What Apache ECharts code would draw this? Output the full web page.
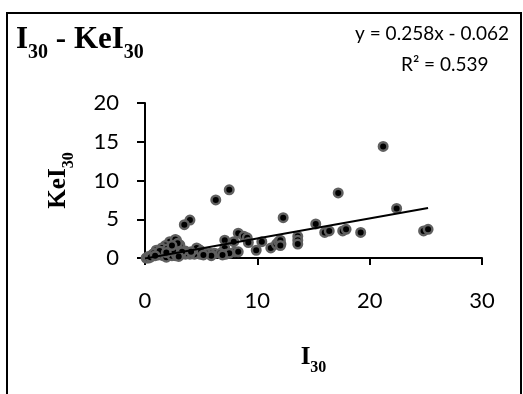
<!DOCTYPE html>
<html>
<head>
<meta charset="utf-8">
<script src="https://cdn.jsdelivr.net/npm/echarts@6/dist/echarts.min.js"></script>
<style>html,body{margin:0;padding:0;background:#fff;}#c{width:523px;height:394px;}</style>
</head>
<body>
<div id="c"></div>
<script>
var xTicks = [0, 10, 20, 30];
var yTicks = [0, 5, 10, 15, 20];
var pointsX = [21.2,17.2,22.4,15.2,12.3,16.0,16.4,17.6,17.9,19.2,24.8,25.2,13.6,13.6,13.6,7.5,6.3,4.0,3.5,8.3,8.8,9.1,9.2,7.1,7.9,7.1,8.0,8.3,9.9,10.4,11.2,11.7,12.1,11.9,12.05,12.05,
  6.2,6.7,5.8,4.9,4.4,4.0,3.6,4.8,3.6,3.1,2.8,2.8,2.2,1.8,1.5,1.0,2.7,2.2,1.6,1.2,0.7,0.3,0.1,0.3,0.8,1.6,2.7,1.9,2.4,2.8,3.7,4.6,5.4,0.5,1.3,2.0,2.5,3.3,5.0,7.2,7.5,5.9,6.9,3.0,0.9,1.9,2.9,2.4,4.1,5.2];
var pointsY = [14.4,8.4,6.4,4.4,5.2,3.3,3.5,3.5,3.7,3.3,3.5,3.7,2.8,2.3,1.8,8.8,7.5,4.9,4.3,3.2,2.8,2.6,2.0,2.3,2.1,1.3,0.8,0.8,1.0,2.1,1.3,1.8,1.8,2.1,2.3,1.6,
  0.6,0.6,0.6,0.5,0.5,0.5,0.5,1.1,0.9,1.7,1.5,2.3,2.1,1.6,1.3,1.0,0.3,0.4,0.3,0.4,0.5,0.2,0.0,0.0,0.6,0.8,2.4,0.1,0.3,0.4,0.6,1.3,0.6,0.1,0.9,1.2,1.0,0.8,0.9,0.5,0.6,0.3,0.4,0.2,0.3,0.7,1.9,1.6,0.8,0.4];
var slope = 0.258, intercept = -0.062;
var trendX = [0, 25.2];

var scatterData = pointsX.map(function (x, i) { return [x, pointsY[i]]; });
var trendData = trendX.map(function (x) { return [x, slope * x + intercept]; });

var tickFont = 'Lato, Carlito, "Open Sans", sans-serif';
var serif = '"Liberation Serif", "Times New Roman", serif';
function nameRich(main, sub, drop) {
  return {
    m: { fontFamily: serif, fontWeight: 'bold', fontSize: main, color: '#000', verticalAlign: 'bottom' },
    s: { fontFamily: serif, fontWeight: 'bold', fontSize: sub, color: '#000', verticalAlign: 'bottom', padding: [0, 0, -drop, 0] }
  };
}
var chart = echarts.init(document.getElementById('c'));
chart.setOption({
  animation: false,
  backgroundColor: '#fff',
  title: [{
    left: 11, top: 19,
    text: '{m|I}{s|30}{m| - KeI}{s|30}',
    textStyle: { rich: nameRich(31, 20, 8) }
  }, {
    right: 9, top: 19,
    text: 'y = 0.258x - 0.062',
    textStyle: { fontFamily: tickFont, fontWeight: 'normal', fontSize: 19, color: '#000' }
  }, {
    left: 396, top: 50,
    text: 'R² = 0.539',
    textStyle: { fontFamily: tickFont, fontWeight: 'normal', fontSize: 19, color: '#000' }
  }],
  graphic: [{
    type: 'rect',
    shape: { x: 7, y: 13, width: 514, height: 420 },
    style: { fill: 'none', stroke: '#000', lineWidth: 2 },
    silent: true
  }],
  grid: { left: 145, right: 41, top: 103, bottom: 136 },
  xAxis: {
    type: 'value', min: xTicks[0], max: xTicks[xTicks.length - 1], interval: 10,
    splitLine: { show: false },
    axisLine: { lineStyle: { color: '#000', width: 2 } },
    axisTick: { show: true, length: 7, lineStyle: { color: '#000', width: 2 } },
    axisLabel: { fontFamily: tickFont, fontSize: 22, color: '#000', margin: 32 },
    name: '{m|I}{s|30}',
    nameLocation: 'middle', nameGap: 87,
    nameTextStyle: { rich: nameRich(25, 16, 6) }
  },
  yAxis: {
    type: 'value', min: yTicks[0], max: yTicks[yTicks.length - 1], interval: 5,
    splitLine: { show: false },
    axisLine: { show: true, lineStyle: { color: '#000', width: 2 } },
    axisTick: { show: true, length: 8, lineStyle: { color: '#000', width: 2 } },
    axisLabel: { fontFamily: tickFont, fontSize: 22, color: '#000', margin: 26 },
    name: '{m|KeI}{s|30}',
    nameLocation: 'middle', nameGap: 74, nameRotate: 90,
    nameTextStyle: { rich: nameRich(25, 16, 6) }
  },
  series: [{
    type: 'scatter',
    data: scatterData,
    symbol: 'circle',
    symbolSize: 8.5,
    itemStyle: { color: '#000', borderColor: '#606060', borderWidth: 2.5, opacity: 1 },
    z: 3
  }, {
    type: 'line',
    data: trendData,
    symbol: 'none',
    lineStyle: { color: '#000', width: 2 },
    z: 4
  }]
});
</script>
</body>
</html>
